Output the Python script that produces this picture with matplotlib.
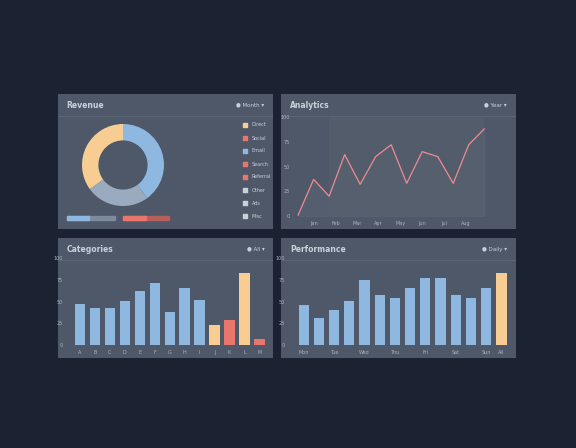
import matplotlib.pyplot as plt
from matplotlib.patches import Rectangle

W, H = 576, 448
BG = '#1b2232'
PANEL = '#4e5868'
BLUE = '#8fb8e0'
PEACH = '#f7cd93'
RED = '#e8766c'
GREYBLUE = '#9aabbf'
TXT = '#c9d0da'

donut_labels = ['Direct', 'Social', 'Email', 'Search', 'Referral', 'Other', 'Ads', 'Misc']
donut_values = [40, 25, 35]
donut_colors = [BLUE, GREYBLUE, PEACH]
legend_colors = [PEACH, RED, BLUE, RED, RED, TXT, TXT, TXT]

line_x = ['Jan', 'Feb', 'Mar', 'Apr', 'May', 'Jun', 'Jul', 'Aug']
line_values = [1, 37, 20, 62, 32, 60, 72, 33, 65, 60, 33, 72, 88]

cat_values = [47, 42, 42, 51, 62, 71, 38, 66, 52, 23, 29, 83, 7]
cat_colors = [BLUE] * 9 + [PEACH, RED, PEACH, RED]
cat_labels = ['A', 'B', 'C', 'D', 'E', 'F', 'G', 'H', 'I', 'J', 'K', 'L', 'M']

perf_values = [46, 31, 40, 51, 75, 57, 54, 65, 77, 77, 58, 54, 65, 83]
perf_colors = [BLUE] * 13 + [PEACH]
perf_labels = ['Mon', '', 'Tue', '', 'Wed', '', 'Thu', '', 'Fri', '', 'Sat', '', 'Sun', 'All']

fig = plt.figure(figsize=(W / 100, H / 100), dpi=100, facecolor=BG)


def box(x0, y0, x1, y1):
    return [x0 / W, 1 - y1 / H, (x1 - x0) / W, (y1 - y0) / H]


def panel(x0, y0, x1, y1, title, tag):
    ax = fig.add_axes(box(x0, y0, x1, y1))
    ax.set_facecolor(PANEL)
    ax.set_xlim(0, 1)
    ax.set_ylim(0, 1)
    ax.set_xticks([])
    ax.set_yticks([])
    for s in ax.spines.values():
        s.set_visible(False)
    ax.text(0.04, 1 - 11 / (y1 - y0), title, color=TXT, fontsize=5.5, va='center', fontweight='bold')
    ax.text(0.96, 1 - 11 / (y1 - y0), tag + ' \u25be', color=TXT, fontsize=4, va='center', ha='right')
    ax.axhline(1 - 22 / (y1 - y0), color='#5d6878', lw=0.6)
    return ax


def inner(x0, y0, x1, y1):
    ax = fig.add_axes(box(x0, y0, x1, y1))
    ax.set_facecolor('none')
    for s in ax.spines.values():
        s.set_visible(False)
    ax.tick_params(length=0, labelsize=3.5, labelcolor='#aab3c0')
    return ax


# panel 1: donut
p = panel(58, 94, 273, 229, 'Revenue', '\u25cf Month')
ax = fig.add_axes(box(82, 124, 164, 206))
ax.pie(donut_values, colors=donut_colors, startangle=90, counterclock=False,
       wedgeprops=dict(width=0.4))
ax.set_xlim(-1, 1)
ax.set_ylim(-1, 1)
ax.set_aspect('equal')
for i, (lab, c) in enumerate(zip(donut_labels, legend_colors)):
    yy = 1 - (125 + i * 13 - 94) / 135
    p.scatter(0.87, yy, s=5, marker='s', color=c)
    p.text(0.9, yy, lab, color=TXT, fontsize=3.5, va='center')
p.add_patch(Rectangle((9 / 215, 0.07), 48 / 215, 0.025, color='#7d8b9c'))
p.add_patch(Rectangle((9 / 215, 0.07), 22 / 215, 0.025, color=BLUE))
p.add_patch(Rectangle((65 / 215, 0.07), 46 / 215, 0.025, color='#b5605a'))
p.add_patch(Rectangle((65 / 215, 0.07), 23 / 215, 0.025, color=RED))

# panel 2: line
panel(281, 94, 516, 229, 'Analytics', '\u25cf Year')
ax = inner(295, 117, 492, 216)
xs = range(len(line_values))
ax.fill_between(xs, line_values, 0, color='#5a6575', alpha=0.5)
ax.axvspan(2, 12, color='#56616f', alpha=0.5, lw=0)
ax.plot(xs, line_values, color='#f08a90', lw=0.9)
ax.set_xlim(-0.2, 12.5)
ax.set_ylim(0, 100)
ax.set_yticks([0, 25, 50, 75, 100])
ax.set_yticklabels(['0', '25', '50', '75', '100'])
ax.set_xticks([1, 2.4, 3.8, 5.2, 6.6, 8, 9.4, 10.8])
ax.set_xticklabels(line_x)

# panel 3: categories
panel(58, 238, 273, 358, 'Categories', '\u25cf All')
ax = inner(68, 258, 270, 345)
ax.bar(range(len(cat_values)), cat_values, color=cat_colors, width=0.7)
ax.set_ylim(0, 100)
ax.set_xlim(-0.8, len(cat_values) - 0.3)
ax.set_yticks([0, 25, 50, 75, 100])
ax.set_xticks(range(len(cat_labels)))
ax.set_xticklabels(cat_labels)

# panel 4: performance
panel(281, 238, 516, 358, 'Performance', '\u25cf Daily')
ax = inner(290, 258, 512, 345)
ax.bar(range(len(perf_values)), perf_values, color=perf_colors, width=0.68)
ax.set_ylim(0, 100)
ax.set_xlim(-0.9, len(perf_values) - 0.3)
ax.set_yticks([0, 25, 50, 75, 100])
ax.set_xticks(range(len(perf_labels)))
ax.set_xticklabels(perf_labels)

fig.savefig('out.png', dpi=100, facecolor=BG)
